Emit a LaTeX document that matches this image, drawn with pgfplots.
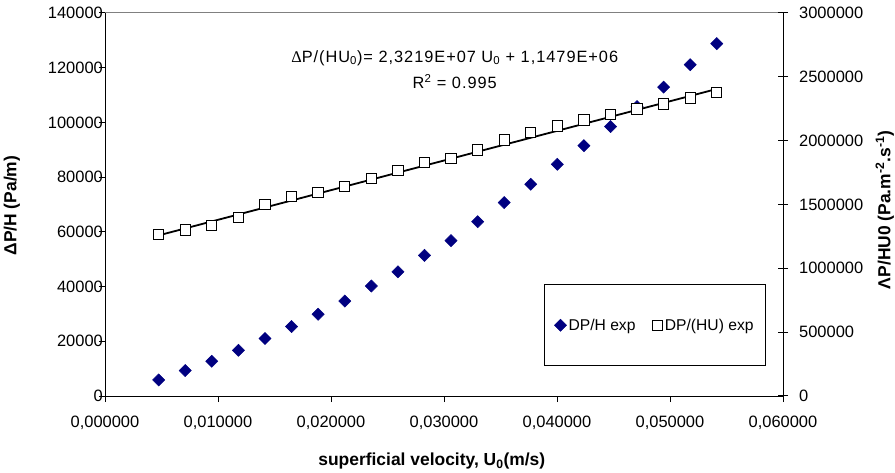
\documentclass[border=0pt]{standalone}
\usepackage{fontspec}
\setmainfont{Liberation Sans}
\newfontfamily\serifgreek{Liberation Serif}
\usepackage{pgfplots}
\usepackage{pgfplotstable}
\pgfplotsset{compat=1.18}

\definecolor{navy}{HTML}{000080}
\definecolor{framegray}{HTML}{808080}

% u [m/s], pressure gradient DP/H [Pa/m], DP/(H U) [Pa m^-2 s^-1]
\pgfplotstableread{
u        dph     dphu
0.00475  5860    1266000
0.00710  9300    1300000
0.00945  12700   1334000
0.01181  16700   1400000
0.01416  21000   1502000
0.01651  25400   1561000
0.01886  29900   1593000
0.02122  34700   1640000
0.02357  40200   1705000
0.02592  45400   1765000
0.02827  51400   1828000
0.03062  56800   1862000
0.03298  63700   1928000
0.03533  70700   2004000
0.03768  77400   2063000
0.04003  84700   2116000
0.04238  91500   2163000
0.04474  98500   2207000
0.04709  105800  2247000
0.04944  112900  2288000
0.05179  121100  2333000
0.05414  128800  2377000
}\datatable

% linear fit DP/(HU0) = 2.3219e7 U0 + 1.1479e6, evaluated at the end points
\pgfplotstableread{
u        fit
0.00475  1258190
0.05414  2404967
}\fittable

\pgfplotsset{
  common/.style={
    at={(105bp,77bp)}, anchor=south west,
    scale only axis, width=678bp, height=383bp,
    xmin=0, xmax=0.06,
    scaled ticks=false,
    font=\fontsize{16.5}{19}\selectfont,
    tick label style={font=\fontsize{16.5}{19}\selectfont},
    label style={font=\fontsize{17.5}{21}\selectfont\bfseries},
    axis line style={black, line width=1bp},
    tick style={black, line width=1bp},
    clip=false,
  },
  diamondmark/.style={only marks, mark=square*, mark size=4.3bp,
    mark options={rotate=45, fill=navy, draw=navy, line width=0.5bp}},
  squaremark/.style={only marks, mark=square*, mark size=5.2bp,
    mark options={fill=white, draw=black, line width=1bp}},
}

\begin{document}
\begin{tikzpicture}
\path[use as bounding box] (0bp,0bp) rectangle (895bp,473bp);

% left axis: pressure gradient
\begin{axis}[common,
  axis x line*=bottom, axis y line*=left,
  ymin=0, ymax=140000,
  xtick={0,0.01,0.02,0.03,0.04,0.05,0.06},
  xticklabels={{0,000000},{0,010000},{0,020000},{0,030000},{0,040000},{0,050000},{0,060000}},
  ytick={0,20000,40000,60000,80000,100000,120000,140000},
  yticklabels={0,20000,40000,60000,80000,100000,120000,140000},
  tick align=outside, major tick length=6bp,
  xticklabel style={inner ysep=0bp, anchor=north, yshift=-14bp},
  yticklabel style={inner xsep=0bp, anchor=east, xshift=4bp},
  xlabel={superficial velocity, U\textsubscript{0}(m/s)},
  xlabel style={at={(axis description cs:0.482,0)}, anchor=center, yshift=-65bp},
  ylabel={ΔP/H (Pa/m)},
  ylabel style={at={(axis description cs:-0.1372,0.497)}, anchor=center},
]
\addplot[diamondmark] table[x=u, y=dph] {\datatable};
\draw[framegray, line width=1bp] (rel axis cs:0,1) -- (rel axis cs:1,1);
\node[align=center, font=\fontsize{16.4}{27}\selectfont\addfontfeature{LetterSpace=6}]
  at (axis cs:0.03095,119300)
  {{\serifgreek Δ}P/(HU\textsubscript{0})= 2,3219E+07 U\textsubscript{0} + 1,1479E+06\\
   R\textsuperscript{2} = 0.995};
\end{axis}

% right axis: DP/(H U0)
\begin{axis}[common,
  axis x line=none, axis y line*=right,
  ymin=0, ymax=3000000,
  ytick={0,500000,1000000,1500000,2000000,2500000,3000000},
  yticklabels={0,500000,1000000,1500000,2000000,2500000,3000000},
  tick align=center, major tick length=10bp,
  yticklabel style={inner xsep=0bp, anchor=west, xshift=11bp},
  ylabel={ΛP/HU0 (Pa.m\textsuperscript{-2}.s\textsuperscript{-1})},
  ylabel style={at={(axis description cs:1.150,0.486)}, anchor=center},
  legend columns=2,
  legend image code/.code={\draw[#1] plot coordinates {(0bp,0bp)};},
  legend style={at={(0.975,0.078)}, anchor=south east,
    draw=black, line width=1bp, inner xsep=10bp, inner ysep=32bp,
    font=\fontsize{15.7}{19}\selectfont, column sep=0bp,
    /tikz/every even column/.append style={column sep=15bp}},
]
\addlegendimage{diamondmark}
\addlegendentry{DP/H exp}
\addplot[squaremark] table[x=u, y=dphu] {\datatable};
\addlegendentry{DP/(HU) exp}
\addplot[black, line width=1.8bp, forget plot] table[x=u, y=fit] {\fittable};
\end{axis}
\end{tikzpicture}
\end{document}
